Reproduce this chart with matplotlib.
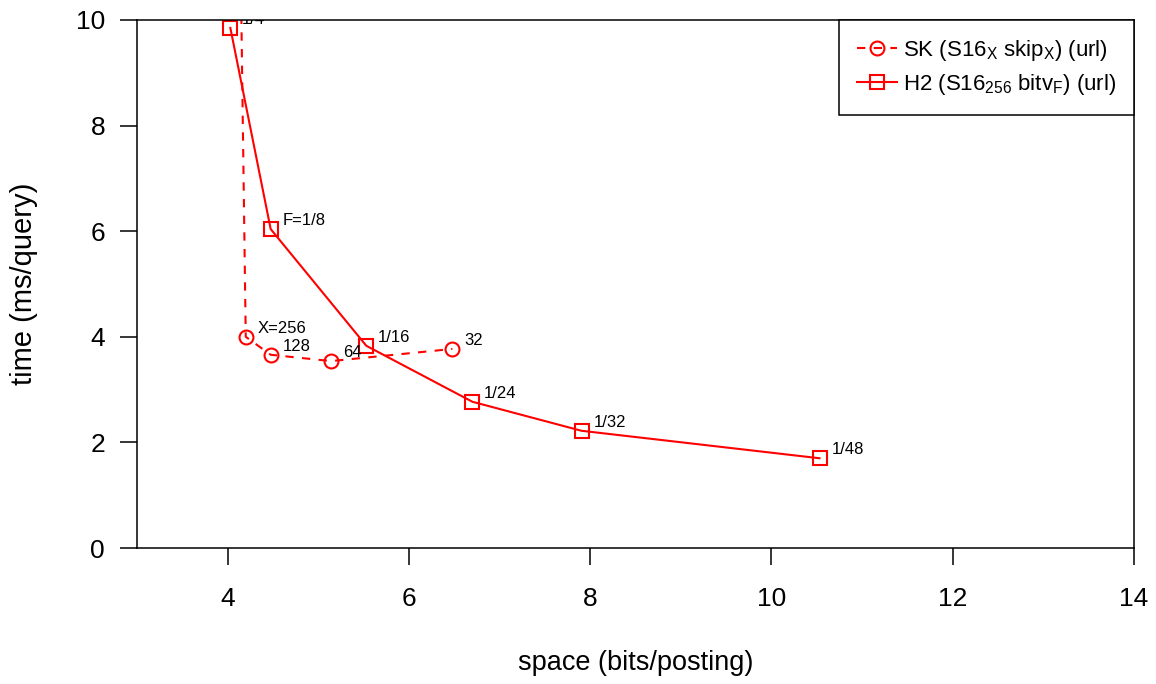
import matplotlib
matplotlib.use("Agg")
import matplotlib.pyplot as plt

plt.rcParams["font.family"] = ["Liberation Sans", "DejaVu Sans"]
plt.rcParams["mathtext.fontset"] = "custom"
plt.rcParams["mathtext.rm"] = "Liberation Sans"
plt.rcParams["mathtext.it"] = "Liberation Sans:italic"

# SK: skip pointers every X postings (first point lies above the plotted range)
sk_space = [4.12, 4.20, 4.475, 5.14, 6.48]
sk_time = [14.0, 4.00, 3.66, 3.54, 3.77]
sk_labels = ["X=512", "X=256", "128", "64", "32"]

# H2: bit vectors for terms with frequency above F
h2_space = [4.03, 4.475, 5.53, 6.70, 7.905, 10.53]
h2_time = [9.85, 6.04, 3.83, 2.77, 2.22, 1.70]
h2_labels = ["1/4", "F=1/8", "1/16", "1/24", "1/32", "1/48"]

x_ticks = [4, 6, 8, 10, 12, 14]
y_ticks = [0, 2, 4, 6, 8, 10]

fig, ax = plt.subplots(figsize=(11.56, 6.84), dpi=100)
fig.subplots_adjust(left=0.1185, right=0.981, top=0.9708, bottom=0.1988)

red = "#ff0000"
ax.plot(sk_space, sk_time, color=red, linestyle=(0, (4, 4)), linewidth=1.5,
        marker="o", markersize=10, markerfacecolor="none", markeredgewidth=1.5,
        label=r"SK (S16$_\mathrm{X}$ skip$_\mathrm{X}$) (url)")
ax.plot(h2_space, h2_time, color=red, linestyle="-", linewidth=1.5,
        marker="s", markersize=10, markerfacecolor="none", markeredgewidth=1.5,
        label=r"H2 (S16$_\mathrm{256}$ bitv$_\mathrm{F}$) (url)")

for xs, ys, labs in [(sk_space, sk_time, sk_labels), (h2_space, h2_time, h2_labels)]:
    for x, y, s in zip(xs, ys, labs):
        ax.annotate(s, (x, y), xytext=(8.5, 6), textcoords="offset points",
                    ha="left", va="center", fontsize=12, clip_on=True,
                    annotation_clip=False)

ax.set_xlim(3, 14)
ax.set_ylim(0, 10)
ax.set_xticks(x_ticks)
ax.set_yticks(y_ticks)
ax.tick_params(axis="both", direction="out", length=12, width=1.1, labelsize=19)
ax.tick_params(axis="x", pad=16)
ax.tick_params(axis="y", pad=11)
for sp in ax.spines.values():
    sp.set_linewidth(1.1)

ax.set_xlabel("space (bits/posting)", fontsize=19.5, labelpad=28)
ax.set_ylabel("time (ms/query)", fontsize=21, labelpad=27)

leg = ax.legend(loc="upper right", borderaxespad=0, fancybox=False,
                edgecolor="black", framealpha=1, fontsize=16, numpoints=1,
                handlelength=1.8, handletextpad=0.25, borderpad=0.82,
                labelspacing=0.4)
leg.get_frame().set_linewidth(1.1)

fig.savefig("out.png", dpi=100)
